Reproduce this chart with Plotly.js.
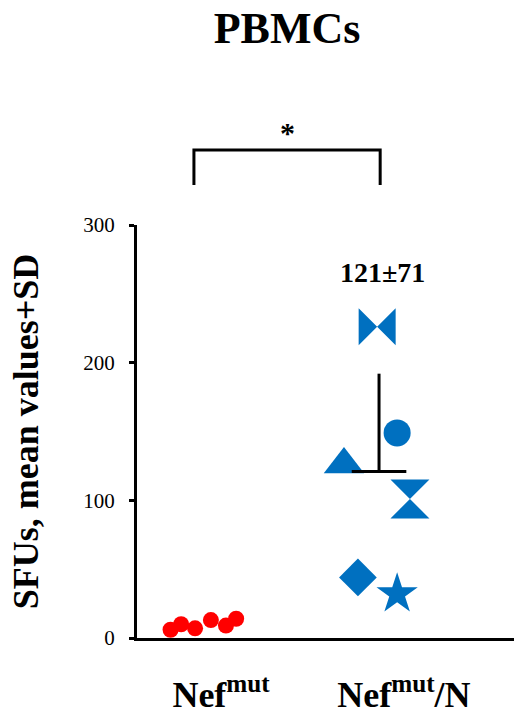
<!DOCTYPE html>
<html>
<head>
<meta charset="utf-8">
<script src="https://cdn.plot.ly/plotly-3.0.1.min.js"></script>
<style>
  html, body { margin: 0; padding: 0; background: #fff; }
  #chart { width: 514px; height: 727px; }
</style>
</head>
<body>
<div id="chart"></div>
<script>
// Group labels and their horizontal positions on the x scale
const groupLabels = ['<b>Nef<sup>mut</sup></b>', '<b>Nef<sup>mut</sup>/N</b>'];
const groupTickPos = [2.23, 7.08];

// Nef-mut group: SFU values per donor, with jittered x positions
const nefMutX = [0.89, 1.17, 1.54, 1.96, 2.36, 2.63];
const nefMutY = [6, 10, 7, 13, 9, 14];

// Nef-mut/N group: one symbol per donor
const nefMutNX = [6.37, 6.90, 5.49, 7.24, 5.86, 6.90];
const nefMutNY = [226, 149, 126, 101, 44, 32];
const nefMutNSymbols = ['bowtie', 'circle', 'triangle-up', 'hourglass', 'diamond', 'star'];
const nefMutNSizes = [37, 27, 35, 39, 29, 31];

// Summary statistic for the Nef-mut/N group
const summaryX = [6.42];
const summaryMean = [121];
const summarySD = [71];

// Significance bracket between the two groups
const bracketX = [1.51, 6.45];
const bracketLabel = '*';

const serif = 'Liberation Serif';
const RED = '#FF0000';
const BLUE = '#0070C0';

const traces = [
  {
    type: 'scatter', mode: 'markers',
    x: nefMutX, y: nefMutY,
    marker: { color: RED, size: 16, symbol: 'circle', opacity: 1 },
    cliponaxis: false, hoverinfo: 'skip', showlegend: false
  },
  {
    type: 'scatter', mode: 'markers',
    x: nefMutNX, y: nefMutNY,
    marker: { color: BLUE, size: nefMutNSizes, symbol: nefMutNSymbols, opacity: 1, line: { width: 0 } },
    cliponaxis: false, hoverinfo: 'skip', showlegend: false
  },
  {
    type: 'scatter', mode: 'markers',
    x: summaryX, y: summaryMean,
    marker: { symbol: 'line-ew', size: 39, color: '#000', opacity: 1, line: { color: '#000', width: 3 } },
    error_y: {
      type: 'data', symmetric: false,
      array: summarySD, arrayminus: [0],
      color: '#000', thickness: 3, width: 0
    },
    cliponaxis: false, hoverinfo: 'skip', showlegend: false
  }
];

// bracket geometry in paper units above the plotting area
const bracketTop = 1.1816, bracketFoot = 1.0969;

const layout = {
  width: 514, height: 727,
  margin: { l: 137, r: 0, t: 225, b: 89 },
  paper_bgcolor: '#fff', plot_bgcolor: '#fff',
  font: { family: serif, color: '#000' },
  title: {
    text: '<b>PBMCs</b>',
    font: { family: serif, size: 44, color: '#000' },
    x: 287 / 514, xanchor: 'center', xref: 'container',
    y: 1 - 28 / 727, yanchor: 'middle', yref: 'container'
  },
  xaxis: {
    range: [0, 10],
    showline: true, linewidth: 3, linecolor: '#000',
    showgrid: false, zeroline: false,
    ticks: '', tickvals: groupTickPos, ticktext: groupLabels,
    tickfont: { family: serif, size: 36, color: '#000' },
    ticklabelstandoff: 23,
    fixedrange: true
  },
  yaxis: {
    range: [0, 300],
    showline: true, linewidth: 3, linecolor: '#000',
    showgrid: false, zeroline: false,
    ticks: 'outside', ticklen: 5, tickwidth: 3, tickcolor: '#000',
    tickvals: [0, 100, 200, 300],
    tickfont: { family: serif, size: 21, color: '#000' },
    ticklabelstandoff: 10,
    title: {
      text: '<b>SFUs, mean values+SD</b>',
      font: { family: serif, size: 36, color: '#000' },
      standoff: 34
    },
    automargin: false,
    fixedrange: true
  },
  shapes: [
    {
      type: 'path', xref: 'x', yref: 'paper',
      path: `M ${bracketX[0]},${bracketFoot} L ${bracketX[0]},${bracketTop} L ${bracketX[1]},${bracketTop} L ${bracketX[1]},${bracketFoot}`,
      line: { color: '#000', width: 3 }
    }
  ],
  annotations: [
    {
      xref: 'x', yref: 'paper',
      x: (bracketX[0] + bracketX[1]) / 2, y: 1.224,
      text: '<b>' + bracketLabel + '</b>', showarrow: false,
      font: { family: serif, size: 30, color: '#000' },
      xanchor: 'center', yanchor: 'middle'
    },
    {
      xref: 'x', yref: 'paper',
      x: 6.5, y: 0.8838,
      text: `<b>${summaryMean[0]}±${summarySD[0]}</b>`, showarrow: false,
      font: { family: serif, size: 28, color: '#000' },
      xanchor: 'center', yanchor: 'middle'
    }
  ]
};

Plotly.newPlot('chart', traces, layout, { staticPlot: true, displayModeBar: false });
</script>
</body>
</html>
